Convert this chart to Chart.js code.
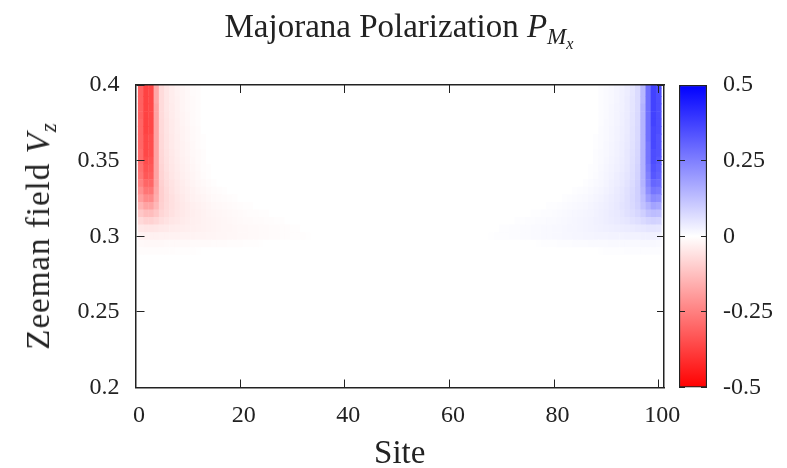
<!DOCTYPE html>
<html><head><meta charset="utf-8">
<script src="https://cdn.jsdelivr.net/npm/chart.js@4.4.1/dist/chart.umd.min.js"></script>
<style>
html,body{margin:0;padding:0;background:#fff;}
#wrap{position:relative;width:787px;height:468px;overflow:hidden;font-family:"Liberation Serif",serif;color:#222;}
#main{position:absolute;left:0;top:0;}
#cbar{position:absolute;left:664px;top:0;}
#title{position:absolute;left:0;width:798px;top:7px;text-align:center;font-size:33px;line-height:38px;white-space:nowrap;}
#title .s1{font-size:70%;vertical-align:-0.3em;line-height:0;}
#title .s2{font-size:70%;vertical-align:-0.3em;line-height:0;}
#ytitle{position:absolute;left:38px;top:236px;transform:translate(-50%,-50%) rotate(-90deg);white-space:nowrap;font-size:33px;line-height:38px;letter-spacing:1px;}
#ytitle sub{font-size:70%;vertical-align:-0.3em;line-height:0;}
</style></head>
<body>
<div id="wrap">
<canvas id="main" width="787" height="468"></canvas>
<canvas id="cbar" width="123" height="468"></canvas>
<div id="title">Majorana Polarization <i>P</i><span class="s1"><i>M</i><span class="s2"><i>x</i></span></span></div>
<div id="ytitle">Zeeman field <i>V</i><sub><i>z</i></sub></div>
</div>
<script>
// ---------------- data ----------------
const sites = [1,2,3,4,5,6,7,8,9,10,11,12,13,14,15,16,17,18,19,20,
21,22,23,24,25,26,27,28,29,30,31,32,33,34,35,36,37,38,39,40,
41,42,43,44,45,46,47,48,49,50,51,52,53,54,55,56,57,58,59,60,
61,62,63,64,65,66,67,68,69,70,71,72,73,74,75,76,77,78,79,80,
81,82,83,84,85,86,87,88,89,90,91,92,93,94,95,96,97,98,99,100];

const vzValues = [0.200,0.205,0.210,0.215,0.220,0.225,0.230,0.235,0.240,0.245,
0.250,0.255,0.260,0.265,0.270,0.275,0.280,0.285,0.290,0.295,
0.300,0.305,0.310,0.315,0.320,0.325,0.330,0.335,0.340,0.345,
0.350,0.355,0.360,0.365,0.370,0.375,0.380,0.385,0.390,0.395,0.400];

// Left-edge polarization per Vz row, listed from site 1 inward (unlisted sites = 0)
const leftEdge = [
[],[],[],[],[],[],[],[],[],[],[],[],[],[],[],[],[],[],
[-0.006,-0.006,-0.006,-0.006,-0.005,-0.005,-0.005,-0.004,-0.004,-0.003,-0.003,-0.002],
[-0.012,-0.013,-0.013,-0.013,-0.013,-0.012,-0.012,-0.012,-0.011,-0.011,-0.010,-0.010,-0.009,-0.009,-0.008,-0.008,-0.007,-0.006,-0.006,-0.005,-0.004,-0.004,-0.003,-0.002],
[-0.025,-0.027,-0.027,-0.027,-0.026,-0.026,-0.025,-0.025,-0.024,-0.023,-0.023,-0.022,-0.021,-0.020,-0.019,-0.018,-0.017,-0.016,-0.015,-0.014,-0.013,-0.012,-0.011,-0.010,-0.009,-0.008,-0.007,-0.006,-0.005,-0.004,-0.004,-0.003,-0.002],
[-0.045,-0.050,-0.050,-0.047,-0.044,-0.041,-0.038,-0.036,-0.033,-0.031,-0.029,-0.027,-0.025,-0.023,-0.021,-0.020,-0.018,-0.017,-0.015,-0.014,-0.013,-0.012,-0.011,-0.010,-0.009,-0.008,-0.007,-0.006,-0.005,-0.004,-0.003],
[-0.075,-0.088,-0.088,-0.078,-0.065,-0.057,-0.050,-0.045,-0.040,-0.036,-0.032,-0.029,-0.026,-0.023,-0.021,-0.019,-0.017,-0.015,-0.013,-0.012,-0.010,-0.009,-0.008,-0.007,-0.006,-0.005,-0.004,-0.003],
[-0.110,-0.130,-0.130,-0.110,-0.080,-0.068,-0.058,-0.050,-0.044,-0.038,-0.033,-0.029,-0.026,-0.022,-0.019,-0.017,-0.015,-0.013,-0.011,-0.009,-0.008,-0.006,-0.005,-0.004,-0.003],
[-0.150,-0.180,-0.180,-0.140,-0.090,-0.073,-0.061,-0.051,-0.043,-0.037,-0.031,-0.027,-0.023,-0.019,-0.016,-0.013,-0.011,-0.009,-0.007,-0.005,-0.004,-0.003],
[-0.190,-0.230,-0.230,-0.160,-0.095,-0.074,-0.060,-0.049,-0.041,-0.034,-0.028,-0.023,-0.019,-0.015,-0.012,-0.009,-0.007,-0.005,-0.003],
[-0.220,-0.270,-0.270,-0.170,-0.095,-0.072,-0.057,-0.046,-0.038,-0.031,-0.025,-0.020,-0.015,-0.011,-0.008,-0.005,-0.003],
[-0.250,-0.300,-0.300,-0.180,-0.090,-0.068,-0.054,-0.043,-0.035,-0.028,-0.022,-0.016,-0.011,-0.007,-0.004],
[-0.270,-0.330,-0.320,-0.180,-0.085,-0.064,-0.050,-0.040,-0.032,-0.025,-0.019,-0.013,-0.008,-0.004],
[-0.280,-0.340,-0.330,-0.180,-0.082,-0.061,-0.047,-0.037,-0.029,-0.023,-0.017,-0.011,-0.006,-0.003],
[-0.290,-0.350,-0.340,-0.180,-0.079,-0.059,-0.045,-0.035,-0.027,-0.021,-0.015,-0.010,-0.005],
[-0.290,-0.360,-0.350,-0.180,-0.077,-0.057,-0.044,-0.034,-0.026,-0.020,-0.014,-0.009,-0.005],
[-0.300,-0.360,-0.350,-0.180,-0.075,-0.055,-0.042,-0.032,-0.025,-0.019,-0.013,-0.008,-0.004],
[-0.300,-0.360,-0.350,-0.180,-0.074,-0.054,-0.041,-0.031,-0.024,-0.018,-0.012,-0.007,-0.004],
[-0.300,-0.370,-0.360,-0.180,-0.073,-0.053,-0.040,-0.030,-0.023,-0.017,-0.011,-0.007],
[-0.300,-0.370,-0.360,-0.180,-0.072,-0.052,-0.039,-0.029,-0.022,-0.016,-0.010,-0.006],
[-0.310,-0.370,-0.360,-0.180,-0.070,-0.051,-0.038,-0.028,-0.021,-0.015,-0.010,-0.006],
[-0.310,-0.370,-0.360,-0.180,-0.070,-0.050,-0.037,-0.028,-0.020,-0.014,-0.009,-0.006],
[-0.310,-0.370,-0.360,-0.170,-0.070,-0.050,-0.036,-0.027,-0.020,-0.014,-0.009,-0.005],
[-0.310,-0.370,-0.360,-0.170,-0.070,-0.050,-0.035,-0.026,-0.019,-0.013,-0.008,-0.005],
[-0.310,-0.370,-0.360,-0.170,-0.070,-0.050,-0.035,-0.025,-0.018,-0.012,-0.008,-0.005]
];

// Right-edge polarization per Vz row, listed from site 100 inward (unlisted sites = 0)
const rightEdge = [
[],[],[],[],[],[],[],[],[],[],[],[],[],[],[],[],[],[],
[0.006,0.006,0.006,0.006,0.005,0.005,0.005,0.004,0.004,0.003,0.003,0.002],
[0.012,0.013,0.013,0.013,0.012,0.012,0.012,0.011,0.011,0.011,0.010,0.010,0.009,0.009,0.008,0.008,0.007,0.006,0.006,0.005,0.004,0.004,0.003,0.002],
[0.026,0.027,0.027,0.027,0.026,0.026,0.025,0.024,0.024,0.023,0.022,0.022,0.021,0.020,0.019,0.018,0.017,0.016,0.015,0.014,0.013,0.012,0.011,0.010,0.009,0.008,0.007,0.006,0.005,0.004,0.004,0.003,0.002],
[0.048,0.050,0.049,0.046,0.043,0.040,0.038,0.035,0.033,0.031,0.029,0.027,0.025,0.023,0.021,0.020,0.018,0.017,0.015,0.014,0.013,0.012,0.011,0.010,0.009,0.008,0.007,0.006,0.005,0.004,0.003],
[0.085,0.088,0.082,0.072,0.063,0.056,0.050,0.045,0.041,0.037,0.033,0.030,0.027,0.024,0.021,0.019,0.017,0.015,0.013,0.012,0.010,0.009,0.008,0.007,0.006,0.005,0.004,0.003],
[0.125,0.130,0.120,0.095,0.078,0.067,0.058,0.050,0.044,0.039,0.034,0.030,0.026,0.022,0.019,0.017,0.015,0.013,0.011,0.009,0.008,0.006,0.005,0.004,0.003],
[0.170,0.180,0.150,0.120,0.088,0.073,0.061,0.052,0.044,0.038,0.032,0.027,0.023,0.019,0.016,0.013,0.011,0.009,0.007,0.005,0.004,0.003],
[0.220,0.230,0.190,0.130,0.092,0.074,0.060,0.050,0.042,0.035,0.029,0.024,0.019,0.015,0.012,0.009,0.007,0.005,0.003],
[0.260,0.270,0.220,0.140,0.093,0.072,0.058,0.047,0.039,0.032,0.026,0.020,0.015,0.011,0.008,0.005,0.003],
[0.290,0.300,0.240,0.150,0.090,0.069,0.054,0.044,0.036,0.029,0.022,0.016,0.011,0.007,0.004],
[0.310,0.330,0.250,0.150,0.087,0.065,0.051,0.041,0.033,0.026,0.019,0.013,0.008,0.004],
[0.320,0.340,0.260,0.150,0.084,0.062,0.048,0.038,0.030,0.023,0.017,0.011,0.006,0.003],
[0.330,0.350,0.270,0.150,0.081,0.060,0.046,0.036,0.028,0.021,0.015,0.010,0.005],
[0.340,0.350,0.270,0.150,0.079,0.058,0.045,0.034,0.026,0.020,0.014,0.009,0.005],
[0.340,0.360,0.270,0.150,0.077,0.056,0.043,0.033,0.025,0.019,0.013,0.008,0.004],
[0.340,0.360,0.280,0.150,0.075,0.055,0.042,0.032,0.024,0.018,0.012,0.007,0.004],
[0.350,0.360,0.280,0.150,0.074,0.054,0.040,0.031,0.023,0.017,0.011,0.007],
[0.350,0.370,0.280,0.150,0.073,0.053,0.039,0.030,0.022,0.016,0.011,0.006],
[0.350,0.370,0.280,0.150,0.072,0.052,0.038,0.029,0.021,0.015,0.010,0.006],
[0.350,0.370,0.280,0.150,0.071,0.051,0.038,0.028,0.021,0.015,0.010,0.006],
[0.350,0.370,0.280,0.140,0.070,0.051,0.037,0.027,0.020,0.014,0.009,0.005],
[0.350,0.370,0.280,0.140,0.070,0.050,0.036,0.027,0.020,0.014,0.009,0.005],
[0.350,0.370,0.280,0.140,0.070,0.050,0.035,0.026,0.019,0.013,0.008,0.005]
];

const xTicks = [0,20,40,60,80,100];
const xTickLabels = ['0','20','40','60','80','100'];
const yTicks = [0.2,0.25,0.3,0.35,0.4];
const yTickLabels = ['0.2','0.25','0.3','0.35','0.4'];
const cbTicks = [-0.5,-0.25,0,0.25,0.5];
const cbTickLabels = ['-0.5','-0.25','0','0.25','0.5'];
const cbRange = [-0.5, 0.5];

// ---------------- styling ----------------
const FONT = '"Liberation Serif", serif';
const INK = '#222';
const ROW_HALF = 0.0027;
Chart.defaults.font.family = FONT;
Chart.defaults.color = INK;

function cellValue(row, site) {
  const L = leftEdge[row], R = rightEdge[row];
  if (site - 1 < L.length) return L[site - 1];
  if (100 - site < R.length) return R[100 - site];
  return 0;
}
function colorFor(v) {
  const t = Math.min(1, Math.abs(v) / cbRange[1]);
  const c = Math.round(255 * (1 - t));
  return v < 0 ? `rgb(255,${c},${c})` : `rgb(${c},${c},255)`;
}

const heatDatasets = vzValues.map((vz, i) => ({
  data: sites.map(s => ({x: s, y: [vz - ROW_HALF, vz + ROW_HALF]})),
  backgroundColor: sites.map(s => colorFor(cellValue(i, s)))
}));

const setTicks = list => scale => { scale.ticks = list.map(v => ({value: v})); };

new Chart(document.getElementById('main'), {
  type: 'bar',
  data: {datasets: heatDatasets},
  options: {
    responsive: false, animation: false, events: [],
    layout: {padding: {left: 0, top: 85, right: 123, bottom: 0}},
    datasets: {bar: {grouped: false, barPercentage: 1.08, categoryPercentage: 1, borderWidth: 0, clip: 0}},
    plugins: {legend: {display: false}, tooltip: {enabled: false}, title: {display: false}},
    scales: {
      x: {
        type: 'linear', position: 'bottom', min: 0, max: 101, offset: false,
        afterBuildTicks: setTicks(xTicks),
        afterFit: s => { s.height = 80.5; },
        grid: {offset: false, drawTicks: false, drawOnChartArea: true, color: INK, lineWidth: 1, z: 1},
        border: {display: true, color: INK, width: 1.5, dash: [8, 286.5], z: 1},
        ticks: {autoSkip: false, maxRotation: 0, padding: 14, labelOffset: 3.5,
                font: {size: 24}, color: INK, callback: (v, i) => xTickLabels[i]},
        title: {display: true, text: 'Site', font: {size: 33, lineHeight: 0.8}, color: INK, padding: 0}
      },
      x2: {
        type: 'linear', axis: 'x', position: 'top', min: 0, max: 1,
        afterFit: s => { s.height = 0; },
        grid: {display: false, drawTicks: false},
        ticks: {display: false},
        border: {display: true, color: INK, width: 1.5, z: 1}
      },
      y: {
        type: 'linear', position: 'left', min: 0.2, max: 0.4,
        afterBuildTicks: setTicks(yTicks),
        afterFit: s => { s.width = 135.5; },
        grid: {drawTicks: false, drawOnChartArea: true, color: INK, lineWidth: 1, z: 1},
        border: {display: true, color: INK, width: 1.5, dash: [8, 512.5], z: 1},
        ticks: {padding: 16, font: {size: 24}, color: INK, callback: (v, i) => yTickLabels[i]}
      },
      y2: {
        type: 'linear', axis: 'y', position: 'right', min: 0, max: 1,
        afterFit: s => { s.width = 0; },
        grid: {display: false, drawTicks: false},
        ticks: {display: false},
        border: {display: true, color: INK, width: 1.5, z: 1}
      }
    }
  }
});

new Chart(document.getElementById('cbar'), {
  type: 'bar',
  data: {
    labels: [''],
    datasets: [{
      data: [cbRange],
      backgroundColor: ctx => {
        const a = ctx.chart.chartArea;
        if (!a) return 'white';
        const g = ctx.chart.ctx.createLinearGradient(0, a.bottom, 0, a.top);
        g.addColorStop(0, colorFor(cbRange[0]));
        g.addColorStop(0.5, colorFor(0));
        g.addColorStop(1, colorFor(cbRange[1]));
        return g;
      },
      borderColor: INK, borderWidth: 1.5, borderSkipped: false,
      barPercentage: 1, categoryPercentage: 1
    }]
  },
  options: {
    responsive: false, animation: false, events: [],
    layout: {padding: {left: 15, top: 85, right: 0, bottom: 80.5}},
    plugins: {legend: {display: false}, tooltip: {enabled: false}},
    scales: {
      x: {display: false},
      y: {
        position: 'right', min: cbRange[0], max: cbRange[1],
        afterBuildTicks: setTicks(cbTicks),
        afterFit: s => { s.width = 80; },
        grid: {drawTicks: false, drawOnChartArea: true, color: INK, lineWidth: 1, z: 1},
        border: {display: false, dash: [6, 16]},
        ticks: {padding: 16, font: {size: 24}, color: INK, callback: (v, i) => cbTickLabels[i]}
      }
    }
  }
});
</script>
</body></html>
